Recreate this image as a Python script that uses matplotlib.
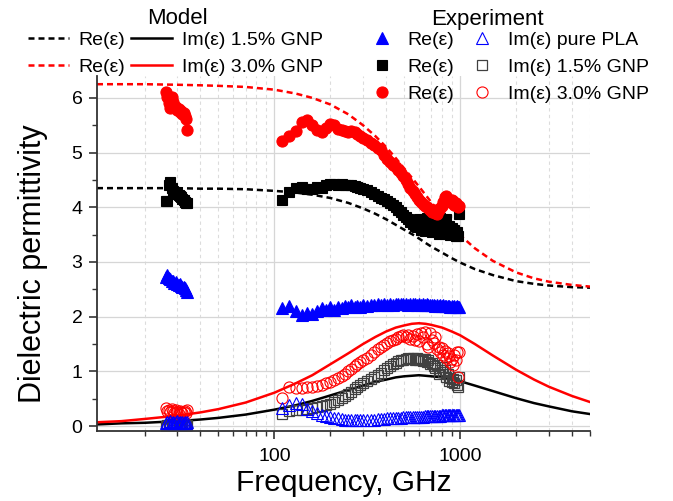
import matplotlib
matplotlib.use('Agg')
from matplotlib import pyplot as plt
from matplotlib.lines import Line2D
from matplotlib.ticker import LogLocator, MultipleLocator, NullFormatter

plt.rcParams['font.family'] = ['Liberation Sans', 'DejaVu Sans']

# ---- model curves ----
model_freq = [11.1, 15, 20, 30, 40, 50, 70, 100, 130, 160, 200, 250, 300, 350, 400, 450,
              500, 550, 600, 650, 700, 800, 900, 1000, 1200, 1500, 2000, 2500, 3000, 4000, 5000]
model_re_15 = [4.35, 4.35, 4.35, 4.35, 4.34, 4.34, 4.33, 4.30, 4.27, 4.23, 4.17, 4.08, 3.98, 3.88, 3.78, 3.68,
               3.59, 3.51, 3.43, 3.35, 3.28, 3.17, 3.07, 2.99, 2.87, 2.76, 2.65, 2.60, 2.57, 2.54, 2.53]
model_im_15 = [0.03, 0.05, 0.06, 0.09, 0.12, 0.15, 0.21, 0.30, 0.38, 0.46, 0.56, 0.66, 0.74, 0.81, 0.85, 0.89,
               0.91, 0.92, 0.93, 0.92, 0.91, 0.89, 0.85, 0.82, 0.74, 0.64, 0.51, 0.42, 0.36, 0.27, 0.22]
model_re_30 = [6.25, 6.25, 6.25, 6.24, 6.23, 6.22, 6.20, 6.15, 6.08, 6.00, 5.88, 5.70, 5.50, 5.30, 5.10, 4.90,
               4.71, 4.54, 4.38, 4.23, 4.09, 3.85, 3.65, 3.49, 3.25, 3.02, 2.81, 2.70, 2.64, 2.58, 2.55]
model_im_30 = [0.07, 0.09, 0.13, 0.19, 0.25, 0.31, 0.43, 0.61, 0.78, 0.93, 1.13, 1.33, 1.50, 1.63, 1.73, 1.80,
               1.84, 1.87, 1.88, 1.87, 1.85, 1.80, 1.73, 1.66, 1.50, 1.29, 1.03, 0.85, 0.72, 0.55, 0.44]

# ---- experiment, Ka band ----
ka_freq = [26.0, 26.5, 27.0, 27.5, 28.0, 28.5, 29.0, 29.5, 30.0, 30.5, 31.0, 31.5, 32.0, 32.5, 33.0, 33.5, 34.0]
ka_re_pla = [2.73, 2.76, 2.70, 2.68, 2.66, 2.65, 2.62, 2.63, 2.60, 2.58, 2.59, 2.56, 2.55, 2.54, 2.52, 2.49, 2.45]
ka_im_pla = [0.06, 0.08, 0.05, 0.09, 0.06, 0.08, 0.05, 0.07, 0.09, 0.06, 0.08, 0.05, 0.07, 0.06, 0.08, 0.05, 0.07]
ka_re_15 = [4.12, 4.12, 4.40, 4.47, 4.36, 4.30, 4.28, 4.25, 4.25, 4.22, 4.20, 4.18, 4.15, 4.14, 4.10, 4.08, 4.07]
ka_im_15 = [0.00, 0.02, -0.01, 0.03, 0.01, 0.02, 0.00, 0.03, 0.01, 0.02, 0.00, 0.03, 0.02, 0.01, 0.03, 0.00, 0.02]
ka_re_30 = [6.11, 6.02, 5.90, 5.82, 6.01, 5.93, 5.86, 5.84, 5.78, 5.80, 5.74, 5.76, 5.70, 5.72, 5.66, 5.62, 5.41]
ka_im_30 = [0.33, 0.28, 0.30, 0.25, 0.31, 0.27, 0.24, 0.29, 0.26, 0.22, 0.27, 0.25, 0.23, 0.26, 0.28, 0.24, 0.30]

# ---- experiment, THz range ----
thz_freq = [110, 120, 130, 140, 150, 160, 170, 180, 190, 200, 210, 220, 230, 240, 250, 260, 270, 280, 290, 300,
            315, 330, 345, 360, 375, 390, 405, 420, 435, 450, 465, 480, 495, 510, 525, 540, 555, 570, 585, 600,
            615, 630, 645, 660, 675, 690, 705, 720, 735, 750, 765, 780, 795, 810, 825, 840, 855, 870, 885, 900,
            915, 930, 945, 960, 975, 990]
thz_re_pla = [2.16, 2.20, 2.10, 2.03, 2.07, 2.04, 2.11, 2.16, 2.12, 2.17, 2.13, 2.18, 2.15, 2.19, 2.17, 2.21, 2.18, 2.20, 2.18, 2.21,
              2.20, 2.22, 2.21, 2.23, 2.21, 2.23, 2.22, 2.24, 2.22, 2.24, 2.23, 2.24, 2.23, 2.24, 2.22, 2.24, 2.23, 2.23, 2.22, 2.23,
              2.22, 2.23, 2.21, 2.23, 2.21, 2.22, 2.21, 2.22, 2.20, 2.21, 2.20, 2.21, 2.19, 2.21, 2.19, 2.20, 2.19, 2.20, 2.18, 2.19,
              2.18, 2.19, 2.18, 2.19, 2.18, 2.18]
thz_im_pla = [0.33, 0.39, 0.43, 0.40, 0.32, 0.27, 0.23, 0.20, 0.18, 0.16, 0.15, 0.14, 0.13, 0.12, 0.12, 0.12, 0.11, 0.12, 0.11, 0.12,
              0.12, 0.12, 0.12, 0.13, 0.13, 0.13, 0.14, 0.14, 0.14, 0.15, 0.15, 0.15, 0.16, 0.16, 0.16, 0.16, 0.17, 0.17, 0.17, 0.17,
              0.17, 0.17, 0.18, 0.18, 0.18, 0.18, 0.18, 0.19, 0.19, 0.19, 0.19, 0.19, 0.20, 0.20, 0.20, 0.20, 0.20, 0.20, 0.20, 0.21,
              0.21, 0.21, 0.21, 0.21, 0.21, 0.21]
thz_re_15 = [4.14, 4.28, 4.36, 4.37, 4.34, 4.33, 4.37, 4.36, 4.40, 4.43, 4.42, 4.41, 4.42, 4.41, 4.41, 4.40, 4.39, 4.37, 4.35, 4.33,
             4.31, 4.28, 4.24, 4.20, 4.17, 4.15, 4.12, 4.08, 4.04, 4.00, 3.95, 3.91, 3.86, 3.82, 3.78, 3.73, 3.70, 3.66, 3.64, 3.78,
             3.58, 3.74, 3.56, 3.80, 3.60, 3.72, 3.55, 3.82, 3.58, 3.70, 3.52, 3.80, 3.58, 3.70, 3.52, 3.78, 3.55, 3.65, 3.50, 3.62,
             3.52, 3.58, 3.48, 3.55, 3.47, 3.88]
thz_im_15 = [0.22, 0.27, 0.29, 0.30, 0.31, 0.33, 0.34, 0.36, 0.38, 0.41, 0.44, 0.48, 0.51, 0.55, 0.59, 0.63, 0.67, 0.71, 0.75, 0.78,
             0.82, 0.86, 0.89, 0.93, 0.97, 1.02, 1.06, 1.10, 1.13, 1.16, 1.19, 1.21, 1.20, 1.22, 1.24, 1.22, 1.25, 1.21, 1.24, 1.20,
             1.23, 1.19, 1.22, 1.18, 1.20, 1.14, 1.16, 1.10, 1.06, 1.12, 0.95, 1.02, 1.08, 0.98, 1.03, 0.90, 0.96, 0.82, 0.88, 0.80,
             0.86, 0.78, 0.84, 0.76, 0.72, 0.90]
thz_re_30 = [5.21, 5.30, 5.40, 5.55, 5.59, 5.50, 5.42, 5.38, 5.45, 5.53, 5.50, 5.44, 5.41, 5.40, 5.38, 5.40, 5.38, 5.34, 5.31, 5.27,
             5.23, 5.18, 5.14, 5.09, 5.04, 4.96, 4.89, 4.83, 4.78, 4.73, 4.68, 4.63, 4.57, 4.50, 4.43, 4.36, 4.30, 4.24, 4.19, 4.14,
             4.09, 4.06, 4.03, 4.00, 3.98, 3.95, 3.92, 3.95, 3.90, 3.88, 3.95, 3.98, 4.02, 4.10, 4.18, 4.20, 4.16, 4.12, 4.10, 4.14,
             4.12, 4.05, 4.08, 4.03, 4.00, 4.02]
thz_im_30 = [0.51, 0.71, 0.70, 0.69, 0.71, 0.72, 0.73, 0.75, 0.78, 0.81, 0.84, 0.88, 0.92, 0.96, 1.00, 1.04, 1.09, 1.13, 1.17, 1.21,
             1.25, 1.30, 1.35, 1.40, 1.45, 1.48, 1.52, 1.55, 1.58, 1.60, 1.62, 1.64, 1.66, 1.62, 1.67, 1.60, 1.64, 1.58, 1.68, 1.56,
             1.70, 1.62, 1.72, 1.50, 1.45, 1.70, 1.58, 1.52, 1.62, 1.40, 1.45, 1.36, 1.42, 1.30, 1.38, 1.25, 1.34, 1.28, 1.18, 1.22,
             1.12, 1.30, 1.20, 1.35, 0.90, 1.36]

x_ticks = [100, 1000]
x_tick_labels = ['100', '1000']
y_ticks = [0, 1, 2, 3, 4, 5, 6]

BLUE = '#0000ff'
RED = '#ff0000'
DARK = '#333333'

fig = plt.figure(figsize=(6.73, 5.01), dpi=100)
ax = fig.add_axes([97 / 673, 1 - 431 / 501, 493 / 673, 355 / 501])

dash = (2.4, 1.6)
ax.plot(model_freq, model_re_15, color='black', lw=1.8, dashes=dash, zorder=2)
ax.plot(model_freq, model_re_30, color=RED, lw=1.8, dashes=dash, zorder=2)
ax.plot(model_freq, model_im_15, color='black', lw=1.8, zorder=2)
ax.plot(model_freq, model_im_30, color=RED, lw=1.8, zorder=2)

sty = {
    're_pla': dict(marker='^', ms=8, color=BLUE, mec=BLUE, mfc=BLUE, mew=0.8),
    'im_pla': dict(marker='^', ms=8, color=BLUE, mec=BLUE, mfc='none', mew=0.8),
    're_15': dict(marker='s', ms=6.5, color='black', mec='black', mfc='black', mew=0.8),
    'im_15': dict(marker='s', ms=6.5, color='#404040', mec='#404040', mfc='none', mew=0.9),
    're_30': dict(marker='o', ms=8, color=RED, mec=RED, mfc=RED, mew=0.8),
    'im_30': dict(marker='o', ms=8, color=RED, mec=RED, mfc='none', mew=0.8),
}

for f, key, vals in [
    (ka_freq, 're_15', ka_re_15), (thz_freq, 're_15', thz_re_15),
    (ka_freq, 'im_15', ka_im_15), (thz_freq, 'im_15', thz_im_15),
    (ka_freq, 're_30', ka_re_30), (thz_freq, 're_30', thz_re_30),
    (ka_freq, 'im_30', ka_im_30), (thz_freq, 'im_30', thz_im_30),
    (ka_freq, 're_pla', ka_re_pla), (thz_freq, 're_pla', thz_re_pla),
    (ka_freq, 'im_pla', ka_im_pla), (thz_freq, 'im_pla', thz_im_pla),
]:
    ax.plot(f, vals, ls='none', zorder=3, **sty[key])

ax.set_xscale('log')
ax.set_xlim(11.1, 5000)
ax.set_ylim(-0.09, 6.4)
ax.set_xticks(x_ticks)
ax.set_xticklabels(x_tick_labels)
ax.xaxis.set_minor_locator(LogLocator(base=10, subs=range(2, 10)))
ax.xaxis.set_minor_formatter(NullFormatter())
ax.set_yticks(y_ticks)
ax.yaxis.set_minor_locator(MultipleLocator(0.5))

ax.grid(True, which='major', axis='both', color='#d6d6d6', lw=0.9, zorder=0)
ax.grid(True, which='minor', axis='x', color='#dcdcdc', lw=0.8, ls=(0, (3, 3)), zorder=0)
ax.set_axisbelow(True)

for s in ['top', 'right']:
    ax.spines[s].set_visible(False)
for s in ['left', 'bottom']:
    ax.spines[s].set_color(DARK)
    ax.spines[s].set_linewidth(1.3)

ax.tick_params(which='major', direction='out', length=6, width=1.2, color=DARK, labelsize=14)
ax.tick_params(axis='x', which='major', pad=6)
ax.tick_params(axis='y', which='major', pad=4.5)
ax.tick_params(which='minor', direction='out', length=3.5, width=1.0, color=DARK)

ax.set_ylabel('Dielectric permittivity', fontsize=22)
ax.set_xlabel('Frequency, GHz', fontsize=21.5)
ax.yaxis.set_label_coords(-0.10, 0.472)
ax.xaxis.set_label_coords(0.5, -0.108)

# legends
model_handles = [
    Line2D([], [], color='black', lw=1.8, dashes=dash),
    Line2D([], [], color=RED, lw=1.8, dashes=dash),
    Line2D([], [], color='black', lw=1.8),
    Line2D([], [], color=RED, lw=1.8),
]
model_labels = ['Re(ε)', 'Re(ε)', 'Im(ε) 1.5% GNP', 'Im(ε) 3.0% GNP']
fig.legend(model_handles, model_labels, ncol=2, loc='upper left',
           bbox_to_anchor=(28 / 673, 1 - 31 / 501), frameon=False, fontsize=14,
           handlelength=2.1, handletextpad=0.5, columnspacing=0.3, labelspacing=0.5,
           borderpad=0, borderaxespad=0)

exp_keys = ['re_pla', 're_15', 're_30', 'im_pla', 'im_15', 'im_30']
exp_handles = [Line2D([], [], ls='none', **sty[k]) for k in exp_keys]
exp_labels = ['Re(ε)', 'Re(ε)', 'Re(ε)', 'Im(ε) pure PLA', 'Im(ε) 1.5% GNP', 'Im(ε) 3.0% GNP']
fig.legend(exp_handles, exp_labels, ncol=2, loc='upper left',
           bbox_to_anchor=(366 / 673, 1 - 31 / 501), frameon=False, fontsize=14,
           handlelength=1.65, handletextpad=0.5, columnspacing=0.6, labelspacing=0.5,
           borderpad=0, borderaxespad=0)

fig.text(177 / 673, 1 - 19 / 501, 'Model', ha='center', va='center', fontsize=16)
fig.text(487 / 673, 1 - 19 / 501, 'Experiment', ha='center', va='center', fontsize=16)

fig.savefig('out.png', dpi=100)
